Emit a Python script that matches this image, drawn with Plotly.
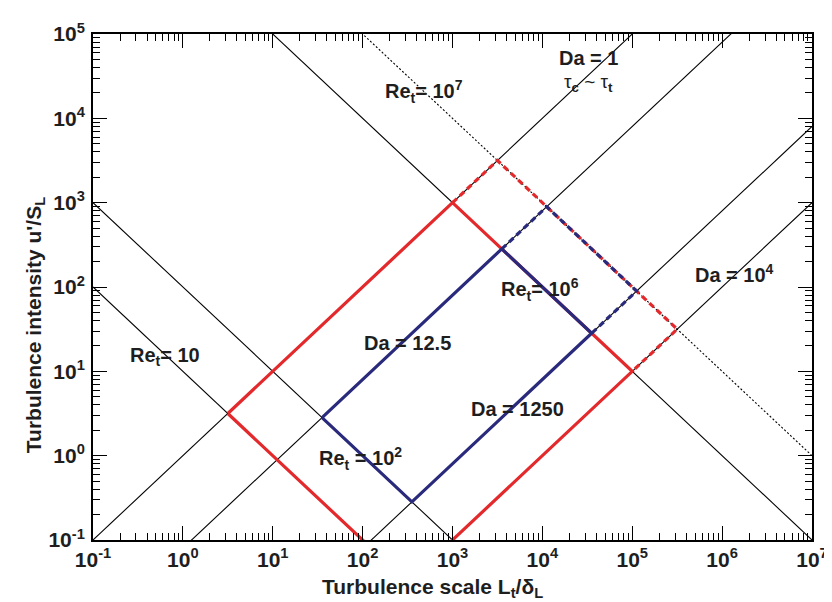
import numpy as np
import plotly.graph_objects as go

# ---------------- data ----------------
x_range_exp = [-1, 7]
y_range_exp = [-1, 5]
x_tick_exps = [-1, 0, 1, 2, 3, 4, 5, 6, 7]
y_tick_exps = [-1, 0, 1, 2, 3, 4, 5]
x_tick_labels = ["10<sup>-1</sup>", "10<sup>0</sup>", "10<sup>1</sup>", "10<sup>2</sup>", "10<sup>3</sup>",
                 "10<sup>4</sup>", "10<sup>5</sup>", "10<sup>6</sup>", "10<sup>7</sup>"]
y_tick_labels = ["10<sup>-1</sup>", "10<sup>0</sup>", "10<sup>1</sup>", "10<sup>2</sup>", "10<sup>3</sup>",
                 "10<sup>4</sup>", "10<sup>5</sup>"]

re_lines_solid = [10, 100, 1e6]        # Re_t = (u'/S_L)(L_t/delta_L)
re_lines_dotted = [1e7]
da_lines = [1, 12.5, 1250, 1e4]        # Da = (L_t/delta_L)/(u'/S_L)

red_re = [10, 1e6]       # solid region
red_re_ext = 1e7         # dashed extension
red_da = [1, 1e4]
blue_re = [100, 1e6]
blue_re_ext = 1e7
blue_da = [12.5, 1250]

RED = "#e3292b"
BLUE = "#2a2a7c"
TXT = "#1e1e1e"
FONT = "Liberation Sans, Arial, sans-serif"

xmin, xmax = 10.0 ** x_range_exp[0], 10.0 ** x_range_exp[1]


def corner(re, da):
    return np.sqrt(re * da), np.sqrt(re / da)


fig = go.Figure()

# thin black lines
for re in re_lines_solid:
    fig.add_trace(go.Scatter(x=[xmin, xmax], y=[re / xmin, re / xmax], mode="lines",
                             line=dict(color="black", width=1.1), hoverinfo="skip", showlegend=False))
for re in re_lines_dotted:
    fig.add_trace(go.Scatter(x=[xmin, xmax], y=[re / xmin, re / xmax], mode="lines",
                             line=dict(color="black", width=1.1, dash="2px,2px"), hoverinfo="skip",
                             showlegend=False))
for da in da_lines:
    fig.add_trace(go.Scatter(x=[xmin, xmax], y=[xmin / da, xmax / da], mode="lines",
                             line=dict(color="black", width=1.1), hoverinfo="skip", showlegend=False))


def add_box(re_pair, re_ext, da_pair, color):
    lo, hi = re_pair
    d1, d2 = da_pair
    pts = [corner(lo, d1), corner(hi, d1), corner(hi, d2), corner(lo, d2), corner(lo, d1)]
    fig.add_trace(go.Scatter(x=[p[0] for p in pts], y=[p[1] for p in pts], mode="lines",
                             line=dict(color=color, width=3.2), hoverinfo="skip", showlegend=False))
    ext = [corner(hi, d1), corner(re_ext, d1), corner(re_ext, d2), corner(hi, d2)]
    fig.add_trace(go.Scatter(x=[p[0] for p in ext], y=[p[1] for p in ext], mode="lines",
                             line=dict(color=color, width=3.2, dash="6px,4px"), hoverinfo="skip",
                             showlegend=False))


add_box(red_re, red_re_ext, red_da, RED)
add_box(blue_re, blue_re_ext, blue_da, BLUE)

# ---------------- layout ----------------
L, R, T, B = 85, 17, 23, 70
W, H = 832, 602
PW, PH = W - L - R, H - T - B


def px(xp):
    return (xp - L) / PW


def py(yp):
    return (H - B - yp) / PH


tickfont = dict(family=FONT, size=21, color=TXT, weight="bold")
axis_common = dict(type="log", showline=True, linecolor="black", linewidth=2, mirror="allticks",
                   ticks="inside", ticklen=14, tickwidth=1, tickcolor="black", showgrid=False,
                   zeroline=False, tickfont=tickfont, tickmode="array",
                   minor=dict(ticks="inside", ticklen=7, tickwidth=1, tickcolor="black",
                              dtick="D1", showgrid=False))

fig.update_xaxes(range=x_range_exp, tickvals=[10.0 ** e for e in x_tick_exps], ticktext=x_tick_labels,
                 **axis_common)
fig.update_yaxes(range=y_range_exp, tickvals=[10.0 ** e for e in y_tick_exps], ticktext=y_tick_labels,
                 ticklabelstandoff=2, **axis_common)

labels = [
    ("Re<sub>t</sub>= 10<sup>7</sup>", 421, 81),
    ("Da = 1", 588, 47),
    ("Re<sub>t</sub>= 10", 158, 347),
    ("Re<sub>t</sub> = 10<sup>2</sup>", 357, 450),
    ("Re<sub>t</sub>= 10<sup>6</sup>", 539, 280),
    ("Da = 10<sup>4</sup>", 736, 264),
    ("Da = 12.5", 404, 334),
    ("Da = 1250", 516, 400),
]
annotations = []
for text, xp_, yp_ in labels:
    annotations.append(dict(text=text, x=px(xp_), y=py(yp_), xref="paper", yref="paper",
                            showarrow=False, xanchor="center", yanchor="middle",
                            font=dict(family=FONT, size=20, color=TXT, weight="bold")))
annotations.append(dict(text="τ<sub><b>c</b></sub> ~ τ<sub><b>t</b></sub>", x=px(588), y=py(72),
                        xref="paper", yref="paper", showarrow=False, xanchor="center",
                        yanchor="middle", font=dict(family=FONT, size=19, color=TXT)))
# axis titles
annotations.append(dict(text="Turbulence scale L<sub>t</sub>/δ<sub>L</sub>", x=px(430), y=py(580),
                        xref="paper", yref="paper", showarrow=False, xanchor="center",
                        yanchor="middle", font=dict(family=FONT, size=21, color=TXT, weight="bold")))
annotations.append(dict(text="Turbulence intensity u'/S<sub>L</sub>", x=px(26), y=py(316),
                        xref="paper", yref="paper", showarrow=False, xanchor="center",
                        yanchor="middle", textangle=-90,
                        font=dict(family=FONT, size=21, color=TXT, weight="bold")))

fig.update_layout(width=W, height=H, margin=dict(l=L, r=R, t=T, b=B),
                  plot_bgcolor="white", paper_bgcolor="white", annotations=annotations,
                  showlegend=False)

fig.write_html("out.html")
